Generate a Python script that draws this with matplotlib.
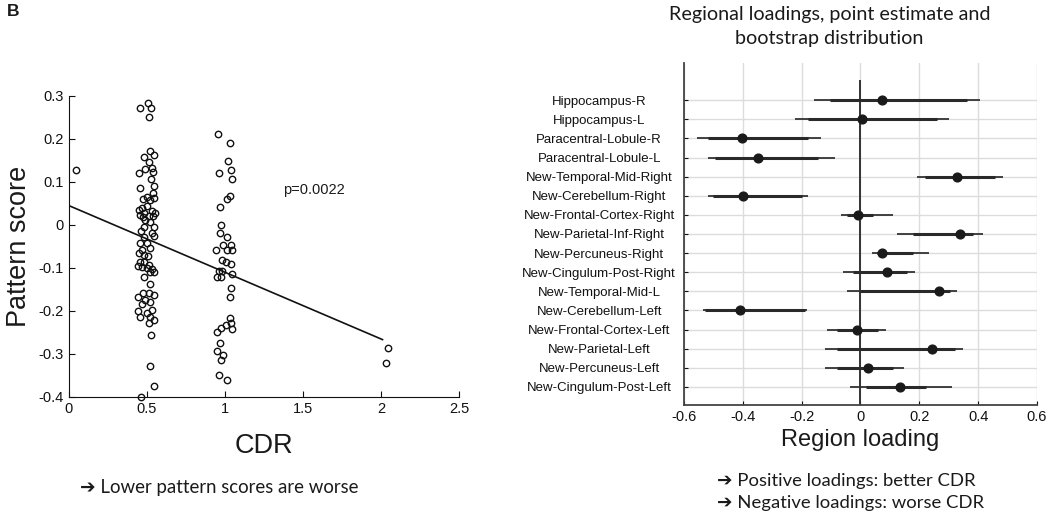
import numpy as np
import matplotlib.pyplot as plt

plt.rcParams['font.family'] = ['Liberation Sans', 'DejaVu Sans']

# --- left panel: pattern score vs CDR ---
cdr = [0.045,
       0.453, 0.506, 0.528, 0.51, 0.52, 0.547, 0.479, 0.511, 0.53, 0.446, 0.49, 0.54, 0.525,
       0.547, 0.455, 0.538, 0.5, 0.474, 0.519, 0.547, 0.446, 0.468, 0.5, 0.53, 0.554, 0.453,
       0.483, 0.51, 0.539, 0.474, 0.489, 0.52, 0.547, 0.479, 0.461, 0.53, 0.547, 0.479, 0.453,
       0.5, 0.52, 0.468, 0.446, 0.479, 0.504, 0.453, 0.483, 0.51, 0.442, 0.468, 0.5, 0.53,
       0.517, 0.547, 0.479, 0.52, 0.474, 0.51, 0.543, 0.442, 0.489, 0.52, 0.468, 0.44, 0.53,
       0.5, 0.457, 0.52, 0.547, 0.51, 0.525, 0.517, 0.543, 0.461,
       0.955, 1.032, 1.019, 0.964, 1.036, 1.043, 1.032, 1.015, 0.968, 0.972, 0.968, 1.011,
       0.989, 1.036, 0.944, 1.015, 1.043, 0.983, 1.004, 1.036, 0.961, 0.983, 0.95, 0.972,
       1.047, 1.036, 1.03, 1.032, 1.036, 1.004, 0.972, 0.946, 1.043, 0.968, 0.946, 0.99,
       0.974, 0.961, 1.015,
       2.045, 2.034]
score = [0.127,
         0.271, 0.284, 0.271, 0.25, 0.173, 0.163, 0.157, 0.147, 0.132, 0.122, 0.13, 0.124, 0.107,
         0.091, 0.085, 0.074, 0.066, 0.06, 0.058, 0.062, 0.035, 0.04, 0.044, 0.033, 0.029, 0.024,
         0.029, 0.021, 0.02, 0.018, 0.012, 0.008, -0.004, -0.004, -0.015, -0.018, -0.025, -0.027, -0.041,
         -0.042, -0.054, -0.058, -0.066, -0.069, -0.073, -0.085, -0.087, -0.093, -0.095, -0.097, -0.1, -0.103,
         -0.11, -0.11, -0.12, -0.137, -0.159, -0.159, -0.162, -0.168, -0.174, -0.178, -0.183, -0.199, -0.197,
         -0.205, -0.214, -0.214, -0.222, -0.227, -0.255, -0.329, -0.374, -0.399,
         0.212, 0.19, 0.149, 0.12, 0.128, 0.106, 0.068, 0.06, 0.041, 0.0, -0.018, -0.028,
         -0.046, -0.046, -0.058, -0.058, -0.059, -0.081, -0.085, -0.09, -0.106, -0.108, -0.12, -0.121,
         -0.114, -0.147, -0.168, -0.217, -0.227, -0.232, -0.24, -0.25, -0.242, -0.275, -0.294, -0.302,
         -0.315, -0.35, -0.36,
         -0.286, -0.321]
fit_x = [0.0, 2.01]
fit_intercept = 0.045
fit_slope = -0.155

# --- right panel: regional loadings ---
regions = ['Hippocampus-R', 'Hippocampus-L', 'Paracentral-Lobule-R', 'Paracentral-Lobule-L',
           'New-Temporal-Mid-Right', 'New-Cerebellum-Right', 'New-Frontal-Cortex-Right',
           'New-Parietal-Inf-Right', 'New-Percuneus-Right', 'New-Cingulum-Post-Right',
           'New-Temporal-Mid-L', 'New-Cerebellum-Left', 'New-Frontal-Cortex-Left',
           'New-Parietal-Left', 'New-Percuneus-Left', 'New-Cingulum-Post-Left']
estimate = [0.072, 0.006, -0.403, -0.348, 0.327, -0.399, -0.007, 0.338,
            0.072, 0.091, 0.268, -0.41, -0.011, 0.242, 0.026, 0.134]
outer_lo = [-0.157, -0.222, -0.555, -0.518, 0.191, -0.52, -0.067, 0.125,
            0.038, -0.058, -0.045, -0.535, -0.115, -0.12, -0.12, -0.036]
outer_hi = [0.406, 0.302, -0.134, -0.087, 0.486, -0.18, 0.112, 0.418,
            0.232, 0.186, 0.329, -0.183, 0.087, 0.35, 0.148, 0.31]
inner_lo = [-0.104, -0.178, -0.518, -0.495, 0.219, -0.5, -0.047, 0.18,
            0.055, -0.024, 0.0, -0.53, -0.08, -0.08, -0.08, 0.02]
inner_hi = [0.362, 0.26, -0.178, -0.143, 0.457, -0.2, 0.043, 0.384,
            0.18, 0.157, 0.304, -0.19, 0.06, 0.32, 0.11, 0.224]

fig = plt.figure(figsize=(10.5, 5.24), dpi=100)
txt = '#1a1a1a'

# left scatter
ax1 = fig.add_axes([0.0657, 0.2424, 0.3714, 0.5744])
ax1.plot(cdr, score, 'o', ms=4.6, mfc='none', mec='#111', mew=1.0, clip_on=False)
fx = np.array(fit_x)
ax1.plot(fx, fit_intercept + fit_slope * fx, color='#111', lw=1.2)
ax1.set_xlim(0, 2.5)
ax1.set_ylim(-0.4, 0.3)
ax1.set_xticks([0, 0.5, 1, 1.5, 2, 2.5])
ax1.set_xticklabels(['0', '0.5', '1', '1.5', '2', '2.5'])
ax1.set_yticks(np.arange(-0.4, 0.31, 0.1))
ax1.set_yticklabels(['-0.4', '-0.3', '-0.2', '-0.1', '0', '0.1', '0.2', '0.3'])
for s in ['top', 'right']:
    ax1.spines[s].set_visible(False)
for s in ['left', 'bottom']:
    ax1.spines[s].set_color('#111')
ax1.tick_params(direction='in', length=4, labelsize=10.5, colors='#111')
ax1.set_xlabel('CDR', fontsize=19.5, color=txt, labelpad=12)
ax1.set_ylabel('Pattern score', fontsize=19.5, color=txt, labelpad=5)
ax1.text(1.37, 0.081, 'p=0.0022', fontsize=10.5, color=txt, va='center')

# right forest plot
ax2 = fig.add_axes([0.6514, 0.2271, 0.3362, 0.6527])
ypos = np.arange(len(regions))
ax2.set_xlim(-0.6, 0.6)
ax2.set_ylim(15.95, -1.95)
ax2.set_xticks([-0.6, -0.4, -0.2, 0, 0.2, 0.4, 0.6])
ax2.set_xticklabels(['-0.6', '-0.4', '-0.2', '0', '0.2', '0.4', '0.6'])
ax2.set_yticks(ypos)
ax2.set_yticklabels(regions, ha='center')
ax2.grid(True, color='#dcdcdc', lw=1.0)
ax2.set_axisbelow(True)
ax2.plot([0, 0], [-1, 15.95], color='#333', lw=1.4)
ax2.hlines(ypos, outer_lo, outer_hi, color='#333', lw=1.3)
ax2.hlines(ypos, inner_lo, inner_hi, color='#2a2a2a', lw=2.2)
ax2.plot(estimate, ypos, 'o', ms=6.3, color='#1a1a1a')
for s in ['top', 'right']:
    ax2.spines[s].set_visible(False)
for s in ['left', 'bottom']:
    ax2.spines[s].set_color('#444')
    ax2.spines[s].set_linewidth(1.3)
ax2.tick_params(axis='x', direction='in', length=3, labelsize=10.5, colors='#111')
ax2.tick_params(axis='y', direction='in', length=3, labelsize=9.5, colors='#111', pad=61)
ax2.set_xlabel('Region loading', fontsize=17, color=txt, labelpad=4)

# titles and notes
note_font = ['Lato', 'DejaVu Sans']
fig.text(0.007, 0.992, 'B', fontsize=12.5, fontweight='bold', color=txt, va='top')
fig.text(0.79, 0.988, 'Regional loadings, point estimate and\nbootstrap distribution',
         fontsize=14.2, ha='center', va='top', color=txt, family=note_font, linespacing=1.45)
fig.text(0.076, 0.07, '\u2794 Lower pattern scores are worse', fontsize=13.4,
         color=txt, family=note_font, va='center')
fig.text(0.683, 0.082, '\u2794 Positive loadings: better CDR', fontsize=13.3,
         color=txt, family=note_font, va='center')
fig.text(0.683, 0.04, '\u2794 Negative loadings: worse CDR', fontsize=13.3,
         color=txt, family=note_font, va='center')

plt.savefig('out.png', dpi=100)
